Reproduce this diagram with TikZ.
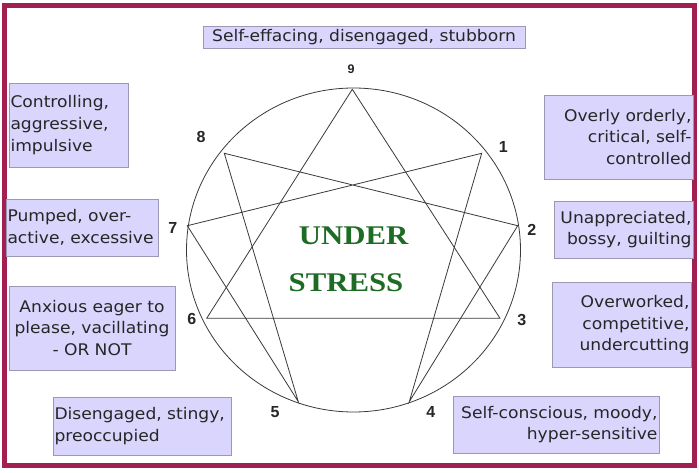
\documentclass[tikz,border=0pt]{standalone}
\usepackage{fontspec}
\setmainfont{DejaVu Sans}[FakeStretch=1.07]
\newfontfamily\numfont{Liberation Sans}
\newfontfamily\titlefont{Liberation Serif}
\definecolor{framecol}{HTML}{A21F52}
\definecolor{boxfill}{HTML}{D9D5FD}
\definecolor{boxline}{HTML}{9A98B4}
\definecolor{linecol}{HTML}{3A3A3A}
\definecolor{greentxt}{HTML}{1E6B25}
\newcommand{\bxline}[1]{\mbox{#1}}
\begin{document}
\begin{tikzpicture}[x=1pt,y=-1pt,
  box/.style={draw=boxline,fill=boxfill,line width=0.8pt,inner sep=1.5pt,
    font=\fontsize{16}{21.7}\selectfont,text=black!85},
  num/.style={font=\numfont\bfseries\fontsize{16}{16}\selectfont,text=black!85,inner sep=0pt},
  gram/.style={draw=linecol,line width=0.8pt},
  title/.style={font=\titlefont\bfseries\fontsize{27}{27}\selectfont,text=greentxt,inner sep=0pt}]
\useasboundingbox (0,0) rectangle (699,473);
\fill[white] (0,0) rectangle (699,473);
\draw[framecol,line width=5pt] (4.2,5.8) rectangle (694.2,465.8);
% enneagram
\draw[gram] (353.5,250) ellipse [x radius=167,y radius=162];
\coordinate (p9) at (352.3,89.3);
\coordinate (p1) at (481.7,153.3);
\coordinate (p2) at (517.7,225.7);
\coordinate (p3) at (500,318.3);
\coordinate (p4) at (409.3,401.7);
\coordinate (p5) at (298.3,401.7);
\coordinate (p6) at (206.7,318.3);
\coordinate (p7) at (187.3,225.7);
\coordinate (p8) at (224.3,153.3);
\draw[gram,line join=miter] (p9) -- (p3) -- (p6) -- cycle;
\draw[gram,line join=miter] (p1) -- (p4) -- (p2) -- (p8) -- (p5) -- (p7) -- cycle;
% numbers
\node[num,font=\numfont\bfseries\fontsize{12.5}{12.5}\selectfont] (n9) at (351,69) {9};
\node[num] (n8) at (201,137.3) {8};
\node[num] (n1) at (503.3,147.3) {1};
\node[num] (n2) at (531.7,230) {2};
\node[num] (n3) at (521.7,320) {3};
\node[num] (n4) at (430.7,411.7) {4};
\node[num] (n5) at (275,411.7) {5};
\node[num] (n6) at (191.7,319.3) {6};
\node[num] (n7) at (172.7,228.3) {7};
% title
\node[title] (t1) at (353.7,235.7) {\scalebox{1.14}[1]{UNDER}};
\node[title] (t2) at (346,282.3) {\scalebox{1.14}[1]{STRESS}};
% boxes
\node[box,minimum width=322,minimum height=22,align=center] (b9) at (364,37) {Self-effacing, disengaged, stubborn};
\node[box,minimum width=119,minimum height=84,text width=116,align=left] (b8) at (68.5,125) {\bxline{Controlling,}\\\bxline{aggressive,}\\\bxline{impulsive}};
\node[box,minimum width=152,minimum height=57,text width=149,align=left] (b7) at (82,227.5) {\bxline{Pumped, over-}\\\bxline{active, excessive}};
\node[box,minimum width=166,minimum height=84,text width=160,align=center] (b6) at (92,328) {\bxline{Anxious eager to}\\\bxline{please, vacillating}\\\bxline{- OR NOT}};
\node[box,minimum width=178,minimum height=58,text width=175,align=left] (b5) at (142,426) {\bxline{Disengaged, stingy,}\\\bxline{preoccupied}};
\node[box,minimum width=149,minimum height=84,text width=146,align=right] (b1) at (618.5,137) {\bxline{Overly orderly,}\\\bxline{critical, self-}\\\bxline{controlled}};
\node[box,minimum width=139,minimum height=57,text width=136,align=right] (b2) at (623.5,229.5) {\bxline{Unappreciated,}\\\bxline{bossy, guilting}};
\node[box,minimum width=139,minimum height=85,text width=136,align=right] (b3) at (621.5,324.8) {\bxline{Overworked,}\\\bxline{competitive,}\\\bxline{undercutting}};
\node[box,minimum width=206,minimum height=57,text width=203,align=right] (b4) at (556,424.7) {\bxline{Self-conscious, moody,}\\\bxline{hyper-sensitive}};
\end{tikzpicture}
\end{document}
